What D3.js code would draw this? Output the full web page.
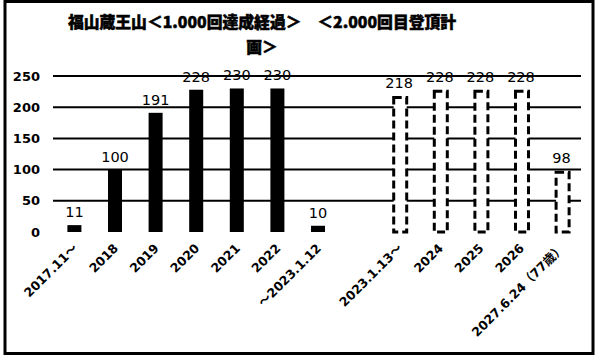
<!DOCTYPE html>
<html>
<head>
<meta charset="utf-8">
<script src="https://cdn.jsdelivr.net/npm/d3@7"></script>
<style>
  html, body { margin: 0; padding: 0; background: #fff; }
  svg { display: block; }
</style>
</head>
<body>
<svg id="chart" width="598" height="361"></svg>
<script>
// Climb counts per period: achieved record (solid) and plan (dashed)
const categories = ["2017.11～", "2018", "2019", "2020", "2021", "2022", "～2023.1.12", "",
                    "2023.1.13～", "2024", "2025", "2026", "2027.6.24（77歳）"];
const achieved = [11, 100, 191, 228, 230, 230, 10, null, null, null, null, null, null];
const planned  = [null, null, null, null, null, null, null, null, 218, 228, 228, 228, 98];
const yTicks = [0, 50, 100, 150, 200, 250];
const titleLines = ["福山蔵王山＜1.000回達成経過＞　＜2.000回目登頂計", "画＞"];

const svg = d3.select("#chart");
const plot = { left: 54, right: 582, top: 76, bottom: 232 };

const x = d3.scaleBand().domain(d3.range(categories.length))
  .range([plot.left, plot.right]).paddingInner(0.655).paddingOuter(0.33);
const y = d3.scaleLinear().domain([0, 250]).range([plot.bottom, plot.top]);

// outer frame
svg.append("rect").attr("x", 5).attr("y", 1.5).attr("width", 588).attr("height", 352)
  .attr("fill", "#fff").attr("stroke", "#000").attr("stroke-width", 3);

// title (heavy weight, slightly stroked)
svg.append("g").selectAll("text").data(titleLines).join("text")
  .attr("x", 262).attr("y", (d, i) => 28 + i * 25)
  .attr("text-anchor", "middle")
  .attr("font-family", "'Noto Sans CJK JP', sans-serif")
  .attr("font-weight", 900).attr("font-size", 15.8)
  .attr("stroke", "#000").attr("stroke-width", 0.5)
  .text(d => d);

// gridlines
svg.append("g").selectAll("line").data(yTicks.filter(t => t > 0)).join("line")
  .attr("x1", 53).attr("x2", 581)
  .attr("y1", d => y(d)).attr("y2", d => y(d))
  .attr("stroke", "#000").attr("stroke-width", 2);

// y axis labels
const yAxis = d3.axisLeft(y).tickValues(yTicks).tickSize(0).tickPadding(0);
svg.append("g").attr("transform", "translate(40,0)").call(yAxis)
  .call(g => g.select(".domain").remove())
  .selectAll("text")
  .attr("font-family", "'DejaVu Sans', sans-serif")
  .attr("font-weight", "bold").attr("font-size", 13).attr("fill", "#000");

const idx = d3.range(categories.length);
const bw = x.bandwidth();

// achieved bars
svg.append("g").selectAll("rect")
  .data(idx.filter(i => achieved[i] != null)).join("rect")
  .attr("x", i => x(i)).attr("width", bw)
  .attr("y", i => y(achieved[i])).attr("height", i => y(0) - y(achieved[i]))
  .attr("fill", "#000");

// planned bars: white fill, dashed outline
svg.append("g").selectAll("rect")
  .data(idx.filter(i => planned[i] != null)).join("rect")
  .attr("x", i => x(i) + 1.5).attr("width", bw - 1)
  .attr("y", i => y(planned[i]) + 1.5).attr("height", i => y(0) - y(planned[i]) - 1.5)
  .attr("fill", "#fff").attr("stroke", "#000").attr("stroke-width", 3)
  .attr("stroke-dasharray", "8,4");

// value labels
const labelData = idx.map(i => ({ i, v: achieved[i] != null ? achieved[i] : planned[i] }))
  .filter(d => d.v != null);
svg.append("g").selectAll("text").data(labelData).join("text")
  .attr("x", d => x(d.i) + bw / 2).attr("y", d => y(d.v) - 8)
  .attr("text-anchor", "middle")
  .attr("font-family", "'DejaVu Sans', sans-serif")
  .attr("font-size", 14.5).attr("fill", "#000")
  .text(d => d.v);

// category labels, rotated
svg.append("g").selectAll("text").data(idx).join("text")
  .attr("transform", i => `translate(${x(i) + bw / 2 + 4},${249}) rotate(-45)`)
  .attr("text-anchor", "end")
  .attr("font-family", "'DejaVu Sans', 'Noto Sans CJK JP', sans-serif")
  .attr("font-weight", "bold").attr("font-size", 12.5).attr("fill", "#000")
  .text(i => categories[i]);
</script>
</body>
</html>
